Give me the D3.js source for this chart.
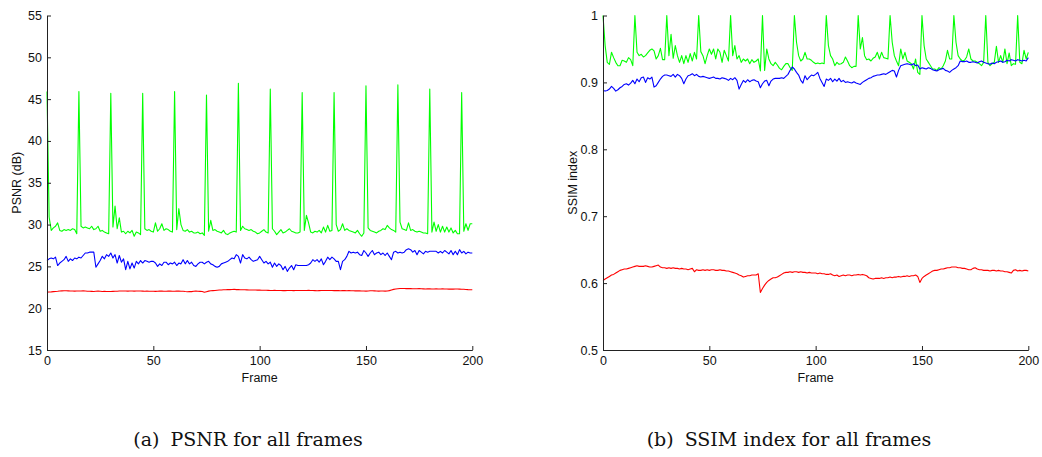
<!DOCTYPE html>
<html>
<head>
<meta charset="utf-8">
<script src="https://cdn.jsdelivr.net/npm/d3@7"></script>
<style>
  body { margin: 0; background: #fff; }
</style>
</head>
<body>
<svg id="fig" width="1042" height="457"></svg>
<script>
// Frame indices shared by every series
const frames = d3.range(0, 201);

// PSNR (dB) per frame
const psnrGreen = [
  45.9, 30.9, 29.3, 29.6, 29.8, 30.2, 29.3, 29.2, 29.4, 29.3,
  29.4, 29.3, 29.5, 29.4, 28.9, 45.9, 29.8, 29.6, 29.7, 29.6,
  29.5, 29.8, 29.4, 29.5, 29.8, 29.2, 29.3, 29.1, 29.0, 28.9,
  45.7, 29.7, 32.2, 29.5, 30.8, 29.1, 29.2, 28.9, 29.2, 29.0,
  29.3, 28.6, 29.1, 29.0, 28.8, 45.7, 29.5, 29.3, 29.4, 29.2,
  29.1, 30.2, 29.2, 29.5, 30.1, 29.3, 29.5, 29.4, 29.2, 29.1,
  45.9, 29.4, 31.9, 30.0, 29.3, 29.2, 29.4, 29.1, 29.2, 29.0,
  29.0, 29.1, 28.9, 29.0, 28.7, 45.5, 29.2, 30.5, 29.3, 29.4,
  29.2, 29.1, 29.0, 29.3, 28.9, 28.8, 29.0, 29.1, 29.2, 29.1,
  46.9, 29.3, 29.8, 29.5, 29.4, 29.3, 29.4, 29.2, 29.1, 28.9,
  29.0, 29.2, 29.4, 29.1, 29.0, 46.2, 29.5, 29.2, 28.8, 29.1,
  29.4, 29.0, 29.1, 29.3, 29.5, 29.2, 29.1, 29.0, 29.0, 29.1,
  45.8, 29.3, 31.1, 30.2, 29.1, 29.0, 29.2, 29.1, 29.3, 29.0,
  29.7, 29.1, 29.9, 29.2, 29.3, 45.8, 30.0, 29.2, 29.4, 30.1,
  29.3, 29.5, 29.3, 29.2, 29.1, 29.0, 29.3, 28.9, 28.6, 29.0,
  46.6, 29.6, 29.3, 29.2, 29.1, 29.0, 29.2, 29.3, 29.5, 29.4,
  29.9, 29.6, 29.4, 29.3, 29.1, 46.7, 30.3, 29.5, 29.4, 29.3,
  30.2, 29.3, 29.4, 29.2, 29.1, 29.2, 29.1, 29.0, 29.0, 28.9,
  46.2, 29.1, 30.3, 29.2, 30.0, 29.1, 29.8, 29.1, 29.7, 29.1,
  29.6, 29.0, 29.3, 28.9, 28.9, 45.8, 29.2, 30.1, 29.3, 30.1,
  30.1
];

const psnrBlue = [
  25.7, 25.9, 26.0, 25.9, 26.1, 25.1, 25.4, 25.6, 25.8, 26.2,
  25.6, 25.9, 25.7, 26.0, 25.9, 26.1, 26.0, 26.3, 26.6, 26.6,
  26.7, 26.7, 26.7, 24.9, 25.3, 25.7, 26.2, 25.9, 26.4, 26.2,
  26.6, 26.0, 26.4, 25.4, 26.3, 25.5, 25.9, 24.6, 25.6, 24.7,
  25.4, 24.8, 25.6, 25.3, 25.7, 25.4, 25.7, 25.6, 25.5, 25.6,
  25.6, 25.4, 25.0, 25.3, 25.1, 25.5, 25.5, 25.2, 25.4, 25.3,
  25.5, 25.1, 25.4, 25.3, 25.8, 25.3, 25.7, 25.3, 25.5, 25.1,
  25.0, 25.3, 25.5, 25.5, 25.3, 25.5, 25.6, 25.3, 25.2, 25.0,
  24.9, 25.0, 25.3, 25.4, 25.5, 25.6, 25.8, 26.0, 25.9, 26.4,
  26.2, 25.4, 26.4, 26.0, 25.9, 26.1, 25.8, 25.6, 25.7, 25.8,
  26.2, 25.8, 25.4, 25.6, 25.3, 25.5, 24.9, 25.4, 25.0, 25.3,
  25.1, 24.6, 25.0, 24.4, 24.8, 25.1, 24.6, 25.2, 25.1, 25.1,
  25.1, 25.1, 25.1, 25.2, 25.4, 25.8, 25.6, 25.8, 25.5, 25.9,
  25.2, 25.6, 26.1, 25.8, 26.1, 25.9, 25.6, 25.6, 24.6, 25.6,
  25.8, 26.2, 26.8, 26.6, 26.7, 26.6, 26.7, 26.4, 26.3, 26.9,
  26.6, 26.2, 26.6, 26.9, 26.4, 26.6, 26.7, 26.4, 26.6, 26.3,
  26.6, 26.2, 25.8, 26.7, 26.8, 26.6, 26.7, 26.6, 26.7, 27.0,
  27.1, 27.0, 26.7, 26.9, 26.4, 26.9, 26.7, 26.5, 26.8, 26.7,
  26.8, 26.8, 26.8, 26.8, 26.6, 26.8, 26.6, 26.9, 26.7, 26.5,
  26.9, 26.4, 26.8, 26.4, 27.0, 26.6, 26.8, 26.5, 26.7, 26.6,
  26.6
];

const psnrRed = [
  21.92, 21.93, 21.95, 21.98, 22.00, 22.02, 22.05, 22.07, 22.08, 22.08,
  22.07, 22.06, 22.05, 22.04, 22.05, 22.06, 22.06, 22.07, 22.05, 22.03,
  22.02, 22.01, 22.00, 22.02, 22.04, 22.02, 22.00, 22.01, 22.00, 21.99,
  22.00, 22.01, 22.02, 22.03, 22.05, 22.06, 22.06, 22.05, 22.04, 22.06,
  22.05, 22.04, 22.05, 22.06, 22.05, 22.04, 22.03, 22.04, 22.03, 22.02,
  22.02, 22.01, 22.03, 22.05, 22.04, 22.02, 22.03, 22.05, 22.04, 22.03,
  22.02, 22.04, 22.05, 22.03, 22.02, 21.99, 21.97, 22.00, 21.98, 22.02,
  22.04, 22.03, 22.01, 21.99, 21.90, 21.97, 22.04, 22.08, 22.10, 22.12,
  22.15, 22.17, 22.18, 22.20, 22.21, 22.22, 22.22, 22.24, 22.26, 22.22,
  22.22, 22.21, 22.20, 22.20, 22.19, 22.18, 22.18, 22.17, 22.17, 22.16,
  22.16, 22.15, 22.15, 22.14, 22.13, 22.12, 22.12, 22.13, 22.12, 22.11,
  22.11, 22.10, 22.10, 22.11, 22.12, 22.11, 22.10, 22.11, 22.12, 22.12,
  22.12, 22.11, 22.12, 22.13, 22.12, 22.11, 22.10, 22.09, 22.10, 22.11,
  22.12, 22.12, 22.11, 22.12, 22.11, 22.10, 22.11, 22.10, 22.09, 22.10,
  22.10, 22.09, 22.10, 22.09, 22.08, 22.07, 22.08, 22.07, 22.06, 22.05,
  22.04, 22.06, 22.08, 22.09, 22.07, 22.05, 22.04, 22.06, 22.05, 22.04,
  22.06, 22.10, 22.18, 22.25, 22.30, 22.33, 22.35, 22.36, 22.35, 22.34,
  22.35, 22.34, 22.33, 22.32, 22.33, 22.34, 22.32, 22.31, 22.30, 22.31,
  22.31, 22.30, 22.29, 22.31, 22.30, 22.29, 22.31, 22.30, 22.29, 22.28,
  22.29, 22.28, 22.30, 22.29, 22.28, 22.27, 22.26, 22.24, 22.22, 22.21,
  22.20
];

// SSIM index per frame
const ssimGreen = [
  1.000, 0.955, 0.930, 0.927, 0.945, 0.937, 0.930, 0.925, 0.925, 0.933,
  0.932, 0.930, 0.937, 0.934, 0.925, 1.000, 0.945, 0.940, 0.942, 0.938,
  0.940, 0.944, 0.948, 0.950, 0.947, 0.935, 0.940, 0.951, 0.934, 0.934,
  1.000, 0.940, 0.972, 0.936, 0.955, 0.940, 0.930, 0.940, 0.928, 0.940,
  0.930, 0.943, 0.932, 0.945, 0.935, 1.000, 0.946, 0.940, 0.928, 0.940,
  0.950, 0.942, 0.950, 0.935, 0.950, 0.945, 0.930, 0.948, 0.940, 0.932,
  1.000, 0.940, 0.955, 0.935, 0.940, 0.930, 0.935, 0.932, 0.935, 0.928,
  0.934, 0.930, 0.932, 0.935, 0.917, 1.000, 0.918, 0.950, 0.935, 0.928,
  0.925, 0.930, 0.926, 0.921, 0.919, 0.924, 0.928, 0.928, 0.922, 0.918,
  1.000, 0.960, 0.940, 0.932, 0.935, 0.945, 0.935, 0.935, 0.933, 0.930,
  0.928, 0.929, 0.928, 0.929, 0.928, 1.000, 0.955, 0.940, 0.935, 0.925,
  0.930, 0.927, 0.928, 0.930, 0.938, 0.932, 0.925, 0.922, 0.924, 0.924,
  1.000, 0.950, 0.967, 0.940, 0.934, 0.935, 0.932, 0.936, 0.938, 0.945,
  0.935, 0.945, 0.937, 0.936, 0.935, 1.000, 0.960, 0.940, 0.932, 0.925,
  0.950, 0.935, 0.945, 0.932, 0.930, 0.928, 0.920, 0.935, 0.915, 0.912,
  1.000, 0.955, 0.935, 0.930, 0.925, 0.920, 0.920, 0.918, 0.922, 0.920,
  0.925, 0.932, 0.948, 0.935, 0.935, 1.000, 0.960, 0.940, 0.935, 0.932,
  0.933, 0.938, 0.950, 0.935, 0.932, 0.932, 0.930, 0.928, 0.925, 0.930,
  1.000, 0.930, 0.925, 0.928, 0.930, 0.954, 0.930, 0.940, 0.930, 0.950,
  0.928, 0.944, 0.925, 0.928, 0.927, 1.000, 0.930, 0.928, 0.948, 0.935,
  0.945
];

const ssimBlue = [
  0.888, 0.887, 0.888, 0.890, 0.894, 0.891, 0.887, 0.889, 0.892, 0.894,
  0.897, 0.898, 0.896, 0.899, 0.903, 0.898, 0.905, 0.901, 0.907, 0.908,
  0.900, 0.907, 0.905, 0.908, 0.893, 0.895, 0.900, 0.905, 0.909, 0.911,
  0.911, 0.910, 0.909, 0.912, 0.908, 0.912, 0.910, 0.906, 0.898, 0.905,
  0.910, 0.911, 0.913, 0.910, 0.912, 0.909, 0.908, 0.909, 0.908, 0.907,
  0.906, 0.907, 0.908, 0.906, 0.906, 0.905, 0.907, 0.906, 0.905, 0.903,
  0.906, 0.904, 0.907, 0.903, 0.890, 0.897, 0.903, 0.900, 0.904, 0.901,
  0.903, 0.904, 0.902, 0.901, 0.892, 0.898, 0.902, 0.903, 0.895, 0.902,
  0.905, 0.906, 0.906, 0.906, 0.907, 0.906, 0.909, 0.912, 0.918, 0.923,
  0.920, 0.915, 0.911, 0.903, 0.899, 0.910, 0.904, 0.908, 0.911, 0.910,
  0.912, 0.915, 0.906, 0.900, 0.894, 0.905, 0.903, 0.906, 0.901, 0.905,
  0.902, 0.906, 0.901, 0.903, 0.900, 0.901, 0.900, 0.899, 0.901, 0.899,
  0.898, 0.897, 0.900, 0.902, 0.904, 0.906, 0.907, 0.909, 0.910, 0.911,
  0.911, 0.912, 0.913, 0.912, 0.914, 0.916, 0.918, 0.917, 0.908, 0.918,
  0.925, 0.926, 0.927, 0.928, 0.927, 0.926, 0.928, 0.925, 0.926, 0.920,
  0.922, 0.921, 0.920, 0.922, 0.921, 0.919, 0.918, 0.917, 0.919, 0.920,
  0.921, 0.918, 0.917, 0.915, 0.918, 0.920, 0.922, 0.925, 0.932, 0.931,
  0.931, 0.932, 0.930, 0.930, 0.931, 0.930, 0.929, 0.931, 0.932, 0.930,
  0.929, 0.928, 0.927, 0.929, 0.928, 0.930, 0.931, 0.932, 0.930, 0.931,
  0.933, 0.932, 0.934, 0.933, 0.932, 0.934, 0.933, 0.932, 0.933, 0.932,
  0.937
];

const ssimRed = [
  0.604, 0.606, 0.608, 0.610, 0.612, 0.613, 0.615, 0.617, 0.619, 0.620,
  0.621, 0.621, 0.622, 0.623, 0.624, 0.625, 0.626, 0.625, 0.625, 0.625,
  0.626, 0.625, 0.624, 0.624, 0.625, 0.626, 0.627, 0.624, 0.623, 0.623,
  0.622, 0.623, 0.622, 0.623, 0.622, 0.622, 0.621, 0.622, 0.621, 0.621,
  0.620, 0.621, 0.622, 0.617, 0.620, 0.619, 0.619, 0.620, 0.619, 0.620,
  0.619, 0.620, 0.620, 0.619, 0.619, 0.620, 0.619, 0.619, 0.618, 0.618,
  0.617, 0.616, 0.615, 0.614, 0.612, 0.611, 0.609, 0.610, 0.611, 0.611,
  0.612, 0.612, 0.612, 0.614, 0.586, 0.592, 0.597, 0.601, 0.604, 0.606,
  0.608, 0.608, 0.609, 0.611, 0.613, 0.615, 0.616, 0.616, 0.617, 0.616,
  0.617, 0.617, 0.616, 0.617, 0.616, 0.616, 0.615, 0.616, 0.615, 0.615,
  0.615, 0.614, 0.615, 0.614, 0.614, 0.613, 0.613, 0.614, 0.612, 0.611,
  0.612, 0.610, 0.611, 0.612, 0.611, 0.612, 0.612, 0.611, 0.612, 0.612,
  0.613, 0.612, 0.613, 0.612, 0.611, 0.608, 0.607, 0.606, 0.607, 0.607,
  0.607, 0.608, 0.607, 0.608, 0.608, 0.609, 0.608, 0.609, 0.609, 0.610,
  0.609, 0.610, 0.610, 0.611, 0.610, 0.611, 0.611, 0.612, 0.610, 0.601,
  0.607, 0.610, 0.612, 0.614, 0.616, 0.618, 0.619, 0.619, 0.620, 0.621,
  0.621, 0.622, 0.623, 0.623, 0.624, 0.624, 0.624, 0.623, 0.623, 0.622,
  0.622, 0.621, 0.620, 0.620, 0.622, 0.623, 0.621, 0.620, 0.620, 0.619,
  0.619, 0.619, 0.618, 0.619, 0.619, 0.618, 0.619, 0.618, 0.618, 0.617,
  0.617, 0.616, 0.615, 0.619, 0.620, 0.618, 0.619, 0.618, 0.619, 0.619,
  0.618
];

// Tick values
const frameTicks = [0, 50, 100, 150, 200];
const psnrTicks = [15, 20, 25, 30, 35, 40, 45, 50, 55];
const ssimTicks = [0.5, 0.6, 0.7, 0.8, 0.9, 1];

const SANS = '"Liberation Sans", Arial, Helvetica, sans-serif';
const SERIF = '"DejaVu Serif", "Liberation Serif", serif';

const svg = d3.select("#fig");

function drawPanel(cfg) {
  const x = d3.scaleLinear().domain([0, 200]).range([cfg.left, cfg.right]);
  const y = d3.scaleLinear().domain(cfg.yDomain).range([cfg.bottom, cfg.top]);
  const g = svg.append("g");

  const line = d3.line()
    .x((d, i) => x(frames[i]))
    .y(d => y(d));

  cfg.series.forEach(s => {
    g.append("path")
      .datum(s.values)
      .attr("fill", "none")
      .attr("stroke", s.color)
      .attr("stroke-width", 1.1)
      .attr("stroke-linejoin", "round")
      .attr("d", line);
  });

  const xAxis = g.append("g")
    .attr("transform", `translate(0,${cfg.bottom})`)
    .call(d3.axisBottom(x).tickValues(frameTicks).tickSizeInner(-4).tickSizeOuter(0).tickPadding(6)
      .tickFormat(d3.format("d")));
  const yAxis = g.append("g")
    .attr("transform", `translate(${cfg.left},0)`)
    .call(d3.axisLeft(y).tickValues(cfg.yTicks).tickSizeInner(-4).tickSizeOuter(0).tickPadding(5)
      .tickFormat(cfg.fmt));

  [xAxis, yAxis].forEach(a => {
    a.selectAll("path.domain").attr("stroke", "#222").attr("stroke-width", 1);
    a.selectAll(".tick line").attr("stroke", "#222");
    a.selectAll("text").attr("font-size", 12.5).attr("fill", "#111")
      .attr("font-family", SANS);
  });

  g.append("text")
    .attr("x", (cfg.left + cfg.right) / 2)
    .attr("y", cfg.bottom + 32)
    .attr("text-anchor", "middle")
    .attr("font-family", SANS)
    .attr("font-size", 12.5)
    .attr("fill", "#111")
    .text("Frame");

  g.append("text")
    .attr("transform", `translate(${cfg.yLabelX},${(cfg.top + cfg.bottom) / 2}) rotate(-90)`)
    .attr("text-anchor", "middle")
    .attr("font-family", SANS)
    .attr("font-size", 12.5)
    .attr("fill", "#111")
    .text(cfg.yLabel);

  // Sub-figure caption, centred under its panel, in a serif face
  const cap = g.append("text")
    .attr("x", cfg.capX)
    .attr("y", 446)
    .attr("text-anchor", "middle")
    .style("font-family", SERIF)
    .attr("font-size", 19)
    .attr("fill", "#111");
  cap.append("tspan").text(cfg.capTag);
  cap.append("tspan").attr("dx", 11).text(cfg.capText);
}

drawPanel({
  left: 47, right: 472.3, top: 15.5, bottom: 350,
  yDomain: [15, 55], yTicks: psnrTicks, fmt: d3.format("d"),
  yLabel: "PSNR (dB)", yLabelX: 21,
  capX: 248, capTag: "(a)", capText: "PSNR for all frames",
  series: [
    { values: psnrGreen, color: "#00ff00" },
    { values: psnrBlue, color: "#0000ff" },
    { values: psnrRed, color: "#ff0000" }
  ]
});

drawPanel({
  left: 603, right: 1028.3, top: 15.5, bottom: 350,
  yDomain: [0.5, 1], yTicks: ssimTicks, fmt: d => String(d),
  yLabel: "SSIM index", yLabelX: 577,
  capX: 789, capTag: "(b)", capText: "SSIM index for all frames",
  series: [
    { values: ssimGreen, color: "#00ff00" },
    { values: ssimBlue, color: "#0000ff" },
    { values: ssimRed, color: "#ff0000" }
  ]
});
</script>
</body>
</html>
